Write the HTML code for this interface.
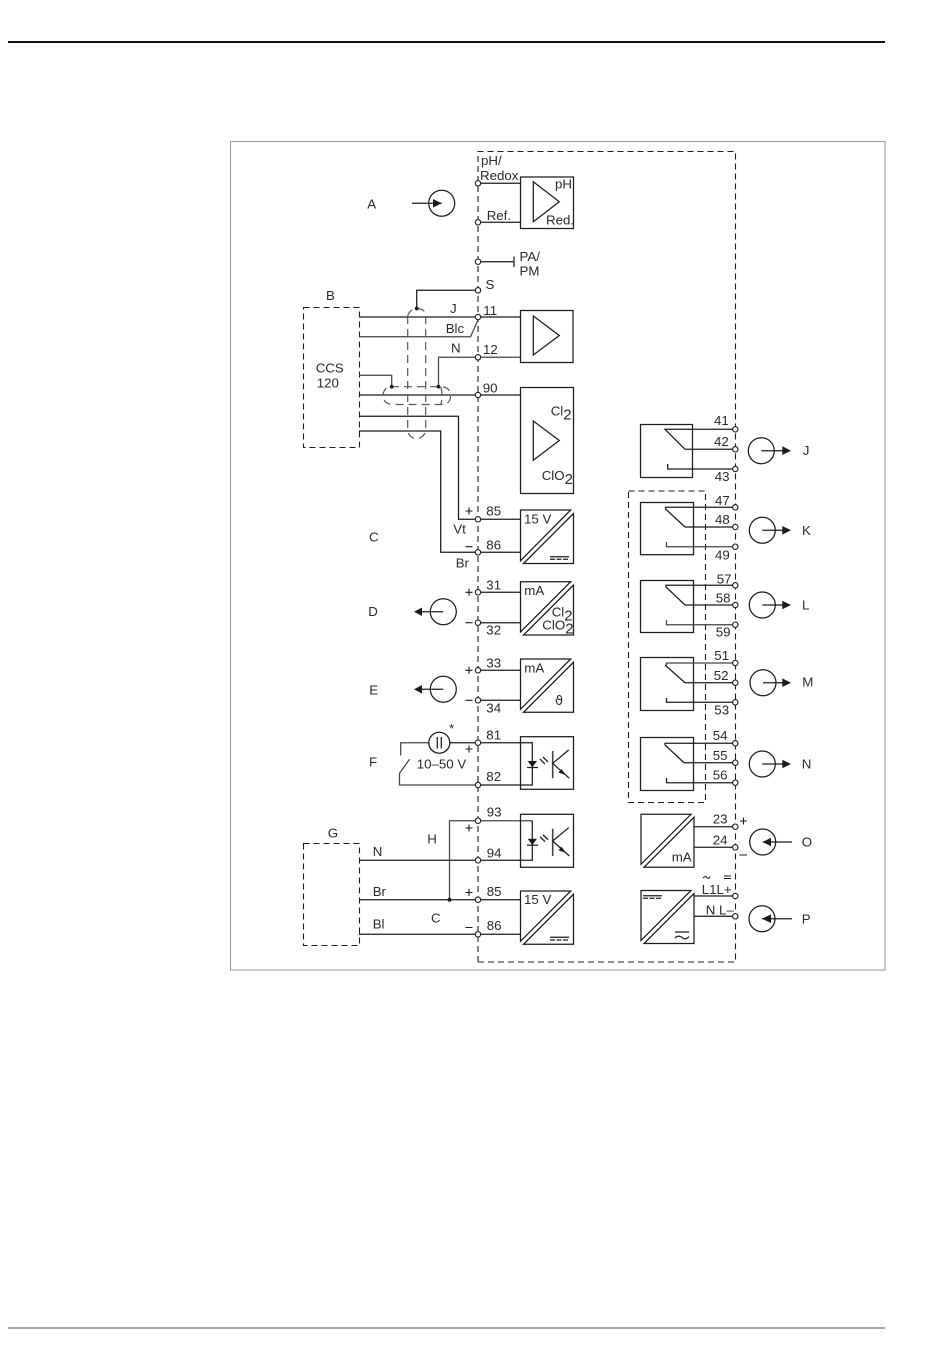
<!DOCTYPE html>
<html><head><meta charset="utf-8"><title>Wiring diagram</title>
<style>
html,body{margin:0;padding:0;background:#fff;width:950px;height:1370px;overflow:hidden}
svg{display:block}
text{font-family:"Liberation Sans",sans-serif;font-size:13.3px;fill:#2a2a2a}
.l{fill:none;stroke:#1c1c1c;stroke-width:1.25}
.g{fill:none;stroke:#444;stroke-width:1.25}
.d{fill:none;stroke:#1c1c1c;stroke-width:1.1;stroke-dasharray:6 4}
.c{fill:none;stroke:#555;stroke-width:1.2;stroke-dasharray:8 5}
.t{fill:#fff;stroke:#1c1c1c;stroke-width:1.1}
.b{fill:#fff;stroke:#1c1c1c;stroke-width:1.25}
.f{fill:#1c1c1c;stroke:none}
.p{fill:none;stroke:#1c1c1c;stroke-width:1.1}
</style></head>
<body>
<svg width="950" height="1370" viewBox="0 0 950 1370" xmlns="http://www.w3.org/2000/svg">
<rect x="8" y="41" width="877" height="2" fill="#111"/>
<rect x="8" y="1327.5" width="877" height="1" fill="#555"/>
<rect x="230.500" y="141.500" width="654.500" height="828.500" fill="none" stroke="#999" stroke-width="1"/>

<!-- main dashed enclosure -->
<path class="d" d="M478 962V151.500H735.500V962H478"/>
<rect class="d" x="628.500" y="491" width="77" height="311.500"/>
<rect class="d" x="303.500" y="307.500" width="56" height="140"/>
<rect class="d" x="303.500" y="843.500" width="56" height="102"/>

<!-- wires left -->
<path class="l" d="M478 183.300H520M478 222.300H520M478 261.700H514M514 256.500V267"/>
<path class="l" d="M478 290.300H416.700V308.500"/>
<path class="l" d="M359 317H520"/>
<path class="g" d="M359 336.700H470.500L478 320"/>
<path class="g" d="M520 357.300H438.500V386.700"/>
<path class="g" d="M359 375.300H391.700V386.700"/>
<path class="l" d="M359 395H520"/>
<path class="l" d="M359 416.300H458.500V519.300H520"/>
<path class="l" d="M359 431H440.700V552.300H520"/>

<!-- shields -->
<path class="c" d="M407.700 316V428Q407.700 438 416 438.500Q425.700 438 425.700 428V316Q425.700 309 417 308.500Q410 309 407.700 316"/>
<path class="c" d="M391 386.700H441Q450.500 387 450.500 396Q450.500 404.500 441 404.500H393Q383 404 383 395Q384 387 391 386.700"/>
<path class="c" d="M441 387Q443 396 441 404"/>
<circle class="f" cx="416.700" cy="308.500" r="1.900"/>
<circle class="f" cx="391.700" cy="386.700" r="1.900"/>
<circle class="f" cx="438.500" cy="386.700" r="1.900"/>

<!-- mid wires -->
<path class="l" d="M478 592.300H520M478 622.700H520M478 670.300H520M478 700.300H520"/>
<path class="g" d="M449.500 742.700H400.700V755.500M399.500 773.300L409.500 759.300M399.500 773.300V785H478"/>
<path class="l" d="M450 742.700H532.300V785H478"/>
<path class="g" d="M532.300 820.700H449.500V899.700"/>
<path class="l" d="M359 860.300H532.300V820.700"/>
<path class="l" d="M359 899.700H520M359 934.300H520"/>
<circle class="f" cx="449.500" cy="899.700" r="2"/>

<!-- amp boxes -->
<rect class="b" x="520.500" y="177" width="53" height="51.500"/>
<path class="l" d="M533.300 181.700L559.300 201.700L533.300 221.700Z"/>
<rect class="b" x="520.500" y="310.500" width="52.500" height="52"/>
<path class="l" d="M533.300 316L559.300 335.500L533.300 355Z"/>
<rect class="b" x="520.500" y="387.500" width="53" height="106"/>
<path class="l" d="M533.300 421L559.300 440.500L533.300 460.300Z"/>

<!-- split boxes left -->
<path class="b" d="M520.500 510H570.700L520.500 560.700Z"/><path class="b" d="M573.500 513.500V563.500H523.500Z"/>
<path class="b" d="M520.500 581.700H570.700L520.500 632Z"/><path class="b" d="M573.500 585V635H523.500Z"/>
<path class="b" d="M520.500 659H570.700L520.500 709.300Z"/><path class="b" d="M573.500 662.300V712.300H523.500Z"/>
<path class="b" d="M520.500 891H570.700L520.500 941.300Z"/><path class="b" d="M573.500 894.300V944.300H523.500Z"/>
<path class="l" d="M550 556.700H569"/><path class="l" stroke-dasharray="5 1.500" d="M550 559.300H569"/>
<path class="l" d="M550 937.300H569"/><path class="l" stroke-dasharray="5 1.500" d="M550 940H569"/>

<!-- opto boxes -->
<rect class="l" x="520.500" y="736.700" width="53" height="52.600"/>
<rect class="l" x="520.500" y="814.300" width="53" height="53"/>
<g>
<path class="f" d="M527.700 761H537L532.300 767.300Z"/><path class="l" d="M527 767.500H538"/>
<path class="l" d="M540 759L545 764M543 757L548 762"/>
<path d="M552.700 751V778.300" stroke="#444" stroke-width="1.600" fill="none"/>
<path class="l" d="M552.700 763.300L568.700 750M552.700 763.300L569.300 778.300"/>
<path class="f" d="M566 775.300L558.500 772.500L561.500 769Z"/>
</g>
<g transform="translate(0,77.700)">
<path class="f" d="M527.700 761H537L532.300 767.300Z"/><path class="l" d="M527 767.500H538"/>
<path class="l" d="M540 759L545 764M543 757L548 762"/>
<path d="M552.700 751V778.300" stroke="#444" stroke-width="1.600" fill="none"/>
<path class="l" d="M552.700 763.300L568.700 750M552.700 763.300L569.300 778.300"/>
<path class="f" d="M566 775.300L558.500 772.500L561.500 769Z"/>
</g>

<!-- relays -->
<rect class="l" x="640.500" y="424.500" width="52" height="53"/>
<path class="l" d="M735 429.300H665L685 449.300H735M667.700 464V469H735"/>
<rect class="l" x="640.500" y="502.500" width="53" height="52.200"/>
<path class="l" d="M735 507.300H665.500V509L685 527H735"/><path class="g" d="M666.500 542V546.700H735"/>
<rect class="l" x="640.500" y="580.500" width="53" height="52"/>
<path class="l" d="M735 585.300H666V587L685 605H735"/><path class="g" d="M666.500 620V624.700H735"/>
<rect class="l" x="640.500" y="657.500" width="53" height="53"/>
<path class="g" d="M735 663H666.500V665"/><path class="l" d="M665 665L685 682.700H735M666.500 698V702.300H735"/>
<rect class="l" x="640.500" y="737.500" width="53" height="53"/>
<path class="l" d="M735 743.300H665V745L684 762.700H735M666.500 778V782.700H735"/>

<!-- right split boxes -->
<path class="b" d="M641 814.300H691L641 864.300Z"/><path class="b" d="M694 817.300V867.300H644Z"/>
<path class="b" d="M641 890.500H691L641 940.500Z"/><path class="b" d="M694 893.500V943.500H644Z"/>
<path class="l" d="M694 826.700H735M694 847.300H735M694 896H735M694 916.300H735"/>
<path class="l" d="M643 895.700H662"/><path class="l" stroke-dasharray="5 1.500" d="M643 898.300H662"/>
<path class="l" d="M675 932H689M675 938Q678.500 934.500 682 937.500T689 936.500"/>
<path class="p" d="M703 878Q705 875.500 707 877.500T710 876.500M724 876H731M724 878.500H731"/>

<!-- meters -->
<circle class="l" cx="441.700" cy="203.300" r="13"/>
<path class="l" d="M412 203.300H441.700"/><path class="f" d="M441.700 203.300L433 199V207.600Z"/>
<circle class="l" cx="443.300" cy="611.700" r="13"/>
<path class="l" d="M421 611.700H443.300"/><path class="f" d="M414 611.700L422 607.500V616Z"/>
<circle class="l" cx="443.300" cy="689.300" r="13"/>
<path class="l" d="M421 689.300H443.300"/><path class="f" d="M414 689.300L422 685V693.600Z"/>
<circle class="l" cx="761.300" cy="450.700" r="13"/>
<path class="l" d="M761.300 450.700H783"/><path class="f" d="M791 450.700L782.300 446.300V455Z"/>
<circle class="l" cx="762.300" cy="530.300" r="13"/>
<path class="l" d="M762.300 530.300H783"/><path class="f" d="M791 530.300L782.300 526V534.600Z"/>
<circle class="l" cx="762.300" cy="605" r="13"/>
<path class="l" d="M762.300 605H783"/><path class="f" d="M791 605L782.300 600.700V609.300Z"/>
<circle class="l" cx="763" cy="682.700" r="13"/>
<path class="l" d="M763 682.700H783"/><path class="f" d="M791 682.700L782.300 678.400V687Z"/>
<circle class="l" cx="762.300" cy="764" r="13"/>
<path class="l" d="M762.300 764H783"/><path class="f" d="M791 764L782.300 759.700V768.300Z"/>
<circle class="l" cx="762.700" cy="842" r="13"/>
<path class="l" d="M792 842H762.700"/><path class="f" d="M762.700 842L771 837.700V846.300Z"/>
<circle class="l" cx="762" cy="918.700" r="13"/>
<path class="l" d="M792 918.700H762"/><path class="f" d="M762 918.700L771 914.400V923Z"/>

<!-- battery symbol -->
<circle class="b" cx="439.300" cy="742.700" r="10.500"/>
<path class="l" d="M437.300 737V748.500M441.300 737V748.500"/>

<!-- terminals -->
<g class="t">
<circle cx="478" cy="183.300" r="2.700"/><circle cx="478" cy="222.300" r="2.700"/><circle cx="478" cy="261.700" r="2.700"/>
<circle cx="478" cy="290.300" r="2.700"/><circle cx="478" cy="317" r="2.700"/><circle cx="478" cy="357.300" r="2.700"/>
<circle cx="478" cy="395" r="2.700"/><circle cx="478" cy="519.300" r="2.700"/><circle cx="478" cy="552.300" r="2.700"/>
<circle cx="478" cy="592.300" r="2.700"/><circle cx="478" cy="622.700" r="2.700"/><circle cx="478" cy="670.300" r="2.700"/>
<circle cx="478" cy="700.300" r="2.700"/><circle cx="478" cy="742.700" r="2.700"/><circle cx="478" cy="785" r="2.700"/>
<circle cx="478" cy="820.700" r="2.700"/><circle cx="478" cy="860.300" r="2.700"/><circle cx="478" cy="899.700" r="2.700"/>
<circle cx="478" cy="934.300" r="2.700"/>
<circle cx="735.300" cy="429.300" r="2.700"/><circle cx="735.300" cy="449.300" r="2.700"/><circle cx="735.300" cy="469" r="2.700"/>
<circle cx="735.300" cy="507.300" r="2.700"/><circle cx="735.300" cy="527" r="2.700"/><circle cx="735.300" cy="546.700" r="2.700"/>
<circle cx="735.300" cy="585.300" r="2.700"/><circle cx="735.300" cy="605" r="2.700"/><circle cx="735.300" cy="624.700" r="2.700"/>
<circle cx="735.300" cy="663" r="2.700"/><circle cx="735.300" cy="682.700" r="2.700"/><circle cx="735.300" cy="702.300" r="2.700"/>
<circle cx="735.300" cy="743.300" r="2.700"/><circle cx="735.300" cy="762.700" r="2.700"/><circle cx="735.300" cy="782.700" r="2.700"/>
<circle cx="735.300" cy="826.700" r="2.700"/><circle cx="735.300" cy="847.300" r="2.700"/><circle cx="735.300" cy="896" r="2.700"/><circle cx="735.300" cy="916.300" r="2.700"/>
</g>

<!-- plus / minus marks -->
<path class="p" d="M465.500 511H472.500M469 507.500V514.500M465.500 546.700H472.500M465.500 592.300H472.500M469 588.800V595.800M465.500 622.700H472.500M465.500 670.300H472.500M469 666.800V673.800M465.500 700.300H472.500M465.500 749H472.500M469 745.500V752.500M465.500 828H472.500M469 824.500V831.500M465.500 892.500H472.500M469 889V896M465.500 927.500H472.500M740 821H747M743.500 817.500V824.500M739.500 855H747"/>

<!-- labels -->
<text x="481" y="165">pH/</text><text x="480" y="180">Redox</text>
<text x="555" y="188.300">pH</text><text x="546" y="224.300">Red.</text>
<text x="486.700" y="220">Ref.</text>
<text x="519.500" y="261">PA/</text><text x="519.500" y="275.700">PM</text>
<text x="485.500" y="289">S</text>
<text x="326" y="300">B</text><text x="367.300" y="208.300">A</text>
<text x="450" y="313">J</text><text x="483.300" y="315">11</text>
<text x="445.700" y="333">Blc</text><text x="451" y="352.300">N</text><text x="483" y="354">12</text>
<text x="315.700" y="372.700">CCS</text><text x="316.700" y="387.700">120</text>
<text x="482.700" y="392.300">90</text>
<text x="550.700" y="415.700">Cl<tspan dy="4" font-size="15">2</tspan></text>
<text x="541.700" y="480">ClO<tspan dy="4" font-size="15">2</tspan></text>
<text x="369" y="541.700">C</text><text x="453.300" y="533.300">Vt</text>
<text x="486.300" y="515.700">85</text><text x="486.300" y="549.300">86</text>
<text x="455.700" y="567.700">Br</text><text x="524" y="523.300">15 V</text>
<text x="486.300" y="589.300">31</text><text x="486.300" y="634.300">32</text>
<text x="368.300" y="616">D</text><text x="524.300" y="595">mA</text>
<text x="551.700" y="616.700">Cl<tspan dy="4" font-size="15">2</tspan></text>
<text x="542.300" y="629.300">ClO<tspan dy="4" font-size="15">2</tspan></text>
<text x="486.300" y="667.700">33</text><text x="486.300" y="712.700">34</text>
<text x="369.300" y="694.300">E</text><text x="524.300" y="672.700">mA</text>
<text x="555" y="705" style="font-size:13px;font-family:'DejaVu Sans',sans-serif">ϑ</text>
<text x="486.300" y="739.300">81</text><text x="486.300" y="781">82</text>
<text x="449" y="733">*</text><text x="369" y="766.300">F</text>
<text x="416.700" y="768.300">10–50 V</text>
<text x="486.700" y="816.700">93</text><text x="486.700" y="857.300">94</text>
<text x="427.300" y="843.300">H</text><text x="372.700" y="856">N</text>
<text x="327.700" y="837.300">G</text><text x="372.700" y="896">Br</text>
<text x="486.700" y="896">85</text><text x="431" y="922.300">C</text>
<text x="372.700" y="928.300">Bl</text><text x="486.700" y="930">86</text>
<text x="524" y="904">15 V</text>
<text x="714" y="425">41</text><text x="714" y="446">42</text><text x="714.700" y="481">43</text>
<text x="715" y="505">47</text><text x="715" y="524">48</text><text x="715" y="559.300">49</text>
<text x="716.700" y="583.300">57</text><text x="715.700" y="602.700">58</text><text x="715.700" y="636.700">59</text>
<text x="714.300" y="660">51</text><text x="713.700" y="680">52</text><text x="714.300" y="714.300">53</text>
<text x="712.700" y="740">54</text><text x="712.700" y="760">55</text><text x="712.700" y="779.300">56</text>
<text x="712.700" y="823.300">23</text><text x="712.700" y="844.300">24</text>
<text x="671.700" y="861.700">mA</text>
<text x="701.700" y="894">L1L+</text><text x="705.700" y="914.700">N L–</text>
<text x="802.700" y="455">J</text><text x="802" y="535">K</text><text x="802" y="609.300">L</text>
<text x="802.300" y="686.700">M</text><text x="801.700" y="768.300">N</text>
<text x="801.700" y="846.700">O</text><text x="801.700" y="923.300">P</text>
</svg>
</body></html>
